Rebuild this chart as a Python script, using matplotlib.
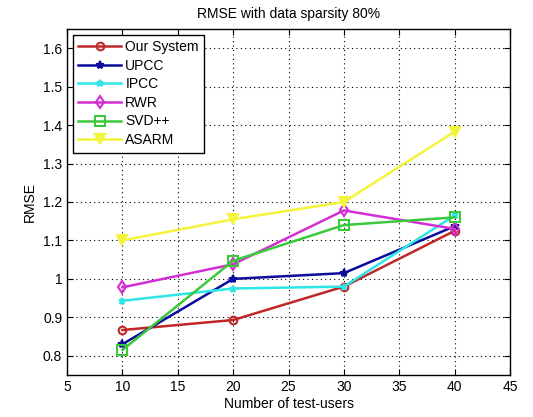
import matplotlib
matplotlib.use("Agg")
import matplotlib.pyplot as plt

plt.rcParams['font.family'] = ['Liberation Sans', 'DejaVu Sans']

users = [10, 20, 30, 40]
our_system = [0.867, 0.893, 0.980, 1.125]
upcc = [0.830, 1.000, 1.015, 1.137]
ipcc = [0.943, 0.975, 0.980, 1.165]
rwr = [0.978, 1.038, 1.178, 1.130]
svdpp = [0.815, 1.047, 1.140, 1.160]
asarm = [1.100, 1.155, 1.200, 1.383]

series_names = ["Our System", "UPCC", "IPCC", "RWR", "SVD++", "ASARM"]
xticks = [5, 10, 15, 20, 25, 30, 35, 40, 45]
yticks = [0.8, 0.9, 1.0, 1.1, 1.2, 1.3, 1.4, 1.5, 1.6]
ytick_labels = ["0.8", "0.9", "1", "1.1", "1.2", "1.3", "1.4", "1.5", "1.6"]

fig = plt.figure(figsize=(5.33, 4.17), dpi=100)
ax = fig.add_axes([0.1257, 0.1007, 0.8312, 0.8298])

styles = [
    dict(color="#c02828", marker="o", mfc="none", ms=5.5),
    dict(color="#0c0c9c", marker="*", mfc="#0c0c9c", ms=6),
    dict(color="#2ee6e6", marker="*", mfc="#2ee6e6", ms=5),
    dict(color="#d22ed2", marker="d", mfc="none", ms=6.5),
    dict(color="#3cc83c", marker="s", mfc="none", ms=6.5),
    dict(color="#f4f43c", marker="v", mfc="#f4f43c", ms=7),
]
data = [our_system, upcc, ipcc, rwr, svdpp, asarm]

for name, vals, st in zip(series_names, data, styles):
    ax.plot(users, vals, label=name, linewidth=1.8, mew=1.5, **st)

ax.set_xlim(5, 45)
ax.set_ylim(0.75, 1.65)
ax.set_xticks(xticks)
ax.set_yticks(yticks)
ax.set_yticklabels(ytick_labels)
ax.grid(True, linestyle=(0, (1, 3)), color="black", linewidth=0.8)
ax.tick_params(direction="in", labelsize=10, top=True, right=True, length=4)
for sp in ax.spines.values():
    sp.set_linewidth(1.0)

ax.set_title("RMSE with data sparsity 80%", fontsize=10, pad=8)
ax.set_xlabel("Number of test-users", fontsize=10, labelpad=2)
ax.set_ylabel("RMSE", fontsize=10, labelpad=4)

leg = ax.legend(loc="upper left", fontsize=10, frameon=True, fancybox=False,
                edgecolor="black", framealpha=1, handlelength=3.1,
                borderaxespad=0.4, labelspacing=0.33, handletextpad=0.3,
                borderpad=0.4)
leg.get_frame().set_linewidth(1.0)

fig.savefig("out.png", dpi=100)
